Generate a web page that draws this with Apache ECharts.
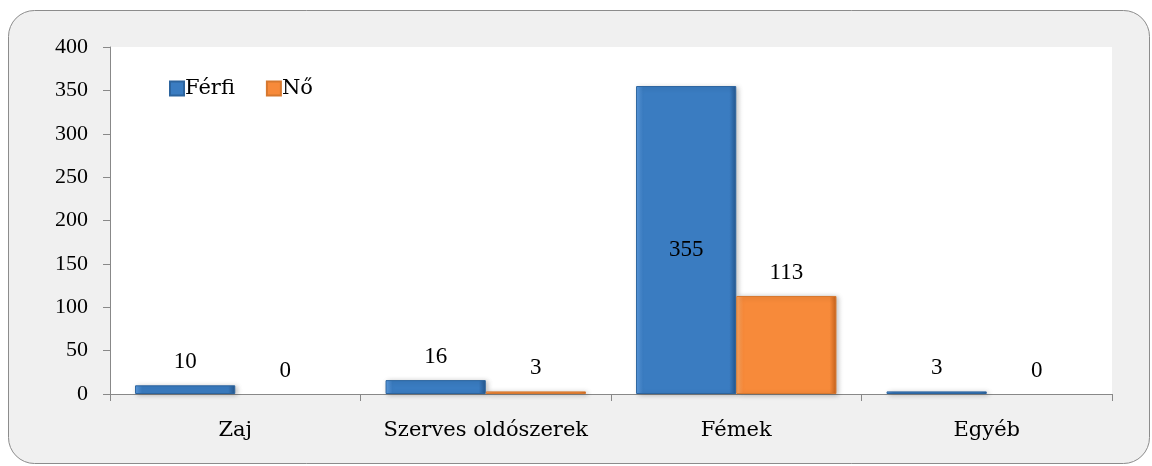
<!DOCTYPE html>
<html>
<head>
<meta charset="utf-8">
<script src="https://cdn.jsdelivr.net/npm/echarts@6/dist/echarts.min.js"></script>
<style>
  html, body { margin: 0; padding: 0; background: #fff; }
  #chart { width: 1152px; height: 466px; }
</style>
</head>
<body>
<div id="chart"></div>
<script>
"use strict";

var categories = ['Zaj', 'Szerves oldószerek', 'Fémek', 'Egyéb'];
var ferfiValues = [10, 16, 355, 3];
var noValues = [0, 3, 113, 0];
var yTicks = [0, 50, 100, 150, 200, 250, 300, 350, 400];

var numFont = '"Liberation Serif", serif';
var wordFont = '"DejaVu Serif", serif';

function bevel(light, mid, dark) {
	return new echarts.graphic.LinearGradient(0, 0, 1, 0, [
		{ offset: 0, color: light },
		{ offset: 0.07, color: mid },
		{ offset: 0.93, color: mid },
		{ offset: 1, color: dark }
	]);
}

// zero bars draw nothing, tall bar keeps its label inside
function toItems(values) {
	return values.map(function (v) {
		if (v === 0) {
			return { value: v, itemStyle: { color: 'rgba(0,0,0,0)', borderWidth: 0, shadowBlur: 0, shadowColor: 'rgba(0,0,0,0)' } };
		}
		if (v > 300) {
			return { value: v, label: { position: 'inside', offset: [0, 10] } };
		}
		return v;
	});
}

var myChart = echarts.init(document.getElementById('chart'));

var labelStyle = {
	show: true,
	position: 'top',
	distance: 12,
	fontFamily: numFont,
	fontSize: 23,
	color: '#000'
};

var option = {
	backgroundColor: '#fff',
	animation: false,
	graphic: [{
		type: 'rect',
		z: -10,
		shape: { x: 8.5, y: 10.5, width: 1141, height: 453, r: 26 },
		style: { fill: '#f0f0f0', stroke: '#8c8c8c', lineWidth: 1 }
	}],
	legend: {
		left: 164,
		top: 73,
		icon: 'rect',
		itemWidth: 14,
		itemHeight: 14,
		itemGap: 31,
		textStyle: { fontFamily: wordFont, fontSize: 21, color: '#000', padding: [0, 0, 0, -4] },
		data: ['Férfi', 'Nő']
	},
	grid: {
		left: 110,
		right: 40,
		top: 47,
		bottom: 72,
		show: true,
		backgroundColor: '#fff',
		borderWidth: 0
	},
	xAxis: {
		type: 'category',
		data: categories,
		axisLine: { lineStyle: { color: '#888' } },
		axisTick: { show: true, interval: 0, length: 7, lineStyle: { color: '#888' } },
		axisLabel: { interval: 0, fontFamily: wordFont, fontSize: 21, color: '#000', margin: 26 }
	},
	yAxis: {
		type: 'value',
		min: 0,
		max: yTicks[yTicks.length - 1],
		interval: yTicks[1] - yTicks[0],
		axisLine: { show: true, lineStyle: { color: '#888' } },
		axisTick: { show: true, length: 7, lineStyle: { color: '#888' } },
		splitLine: { show: false },
		axisLabel: { fontFamily: numFont, fontSize: 22, color: '#000', margin: 22 }
	},
	series: [{
		name: 'Férfi',
		type: 'bar',
		data: toItems(ferfiValues),
		barGap: '0%',
		barCategoryGap: '20%',
		itemStyle: {
			color: bevel('#5d9de2', '#3a7cc1', '#24578f'),
			borderColor: '#2c649e',
			borderWidth: 1,
			shadowColor: 'rgba(0,0,0,0.25)',
			shadowBlur: 5,
			shadowOffsetX: 2,
			shadowOffsetY: 1
		},
		label: labelStyle
	}, {
		name: 'Nő',
		type: 'bar',
		data: toItems(noValues),
		itemStyle: {
			color: bevel('#fca866', '#f78a3a', '#c7621b'),
			borderColor: '#d6782f',
			borderWidth: 1,
			shadowColor: 'rgba(0,0,0,0.25)',
			shadowBlur: 5,
			shadowOffsetX: 2,
			shadowOffsetY: 1
		},
		label: labelStyle
	}]
};

myChart.setOption(option);
</script>
</body>
</html>
